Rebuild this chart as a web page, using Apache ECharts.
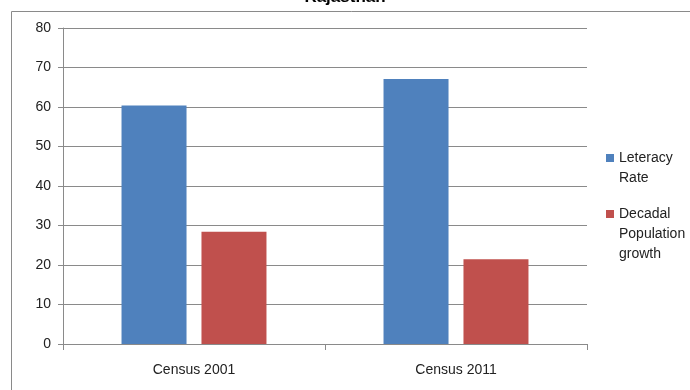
<!DOCTYPE html>
<html><head><meta charset="utf-8">
<script src="https://cdn.jsdelivr.net/npm/echarts@6/dist/echarts.min.js"></script>
<style>html,body{margin:0;padding:0;background:#fff}#c{width:690px;height:390px}</style>
</head><body><div id="c"></div>
<script>
const categories = ["Census 2001", "Census 2011"];
const literacyRate = [60.41, 67.06];
const decadalGrowth = [28.41, 21.44];
const seriesNames = ["Leteracy Rate", "Decadal Population growth"];
const legendLines = {"Leteracy Rate": ["Leteracy", "Rate"], "Decadal Population growth": ["Decadal", "Population", "growth"]};
const titleText = "Rajasthan";

const chart = echarts.init(document.getElementById('c'));
const font = "Liberation Sans";
// pad with blank lines above so the marker lines up with the first text line
function wrapLabel(n) {
  const lines = legendLines[n];
  const pad = new Array(lines.length - 1).fill(' ');
  return pad.concat(lines).join('\n');
}
function legendFor(name, top) {
  return {orient: 'vertical', left: 606, top: top, padding: 0, itemWidth: 8, itemHeight: 8,
    icon: 'rect', data: [name], formatter: wrapLabel,
    textStyle: {fontFamily: font, fontSize: 14, color: '#222', lineHeight: 20}};
}
chart.setOption({
  animation: false,
  textStyle: {fontFamily: font},
  title: {text: titleText, left: 'center', top: -16,
    textStyle: {fontFamily: font, fontSize: 17, fontWeight: 'bold', color: '#000'}},
  graphic: [{type: 'rect', shape: {x: 11.5, y: 11.5, width: 700, height: 400},
    style: {fill: 'none', stroke: '#8a8a8a', lineWidth: 1}, silent: true, z: -1}],
  grid: {left: 63, right: 103, top: 28, bottom: 46},
  legend: [legendFor(seriesNames[0], 128), legendFor(seriesNames[1], 164)],
  xAxis: {type: 'category', data: categories,
    axisLine: {lineStyle: {color: '#8a8a8a'}},
    axisTick: {show: true, length: 6, lineStyle: {color: '#8a8a8a'}},
    axisLabel: {fontSize: 14, color: '#222', margin: 19}},
  yAxis: {type: 'value', min: 0, max: 80, interval: 10,
    axisLine: {show: true, lineStyle: {color: '#8a8a8a'}},
    axisTick: {show: true, length: 5, lineStyle: {color: '#8a8a8a'}},
    splitLine: {lineStyle: {color: '#8a8a8a'}},
    axisLabel: {fontSize: 14, color: '#222', margin: 12}},
  series: [
    {name: seriesNames[0], type: 'bar', data: literacyRate, barWidth: 65, barGap: '23%',
      itemStyle: {color: '#4f81bd'}},
    {name: seriesNames[1], type: 'bar', data: decadalGrowth, barWidth: 65,
      itemStyle: {color: '#c0504d'}}
  ]
});
</script></body></html>
